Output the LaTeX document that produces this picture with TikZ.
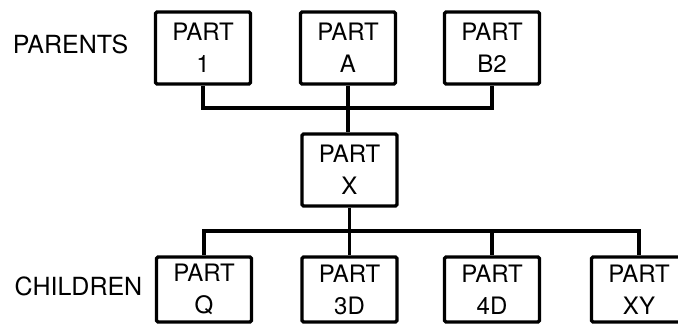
\documentclass[tikz,border=0pt]{standalone}
\usepackage{fontspec}
\setmainfont{TeX Gyre Heros}
\begin{document}
\begin{tikzpicture}[x=1pt, y=-1pt, line width=3.3pt,
  part/.style={draw, align=center, inner sep=0pt, minimum width=95pt, minimum height=72pt,
    rounded corners=1.5pt, font=\fontsize{24}{32}\selectfont},
  lbl/.style={font=\fontsize{25}{28}\selectfont}]
\useasboundingbox (0,0) rectangle (678,324);
\clip (0,0) rectangle (678,324);
\node[lbl] (parents) at (70.5,44) {PARENTS};
\node[lbl] (children) at (78.5,286.5) {CHILDREN};
% parents
\node[part] (p1) at (203,48) {PART\\1};
\node[part] (pA) at (348,48) {PART\\A};
\node[part] (pB2) at (492,48) {PART\\B2};
\node[part] (x) at (349.5,170) {PART\\X};
% children
\node[part, minimum height=65pt] (cQ) at (204,289.5) {PART\\Q};
\node[part, minimum height=65pt] (c3D) at (349.5,289.5) {PART\\3D};
\node[part, minimum height=65pt] (c4D) at (492,289.5) {PART\\4D};
\node[part, minimum height=65pt] (cXY) at (639,289.5) {PART\\XY};
\coordinate (up) at (348,108);
\coordinate (down) at (349.5,231);
\draw (p1) |- (up) -| (pB2);
\draw (pA) -- (pA |- x.north);
\draw (cQ) |- (down) -| (cXY);
\draw (x) -- (c3D);
\draw (down) -| (c4D);
\end{tikzpicture}
\end{document}
